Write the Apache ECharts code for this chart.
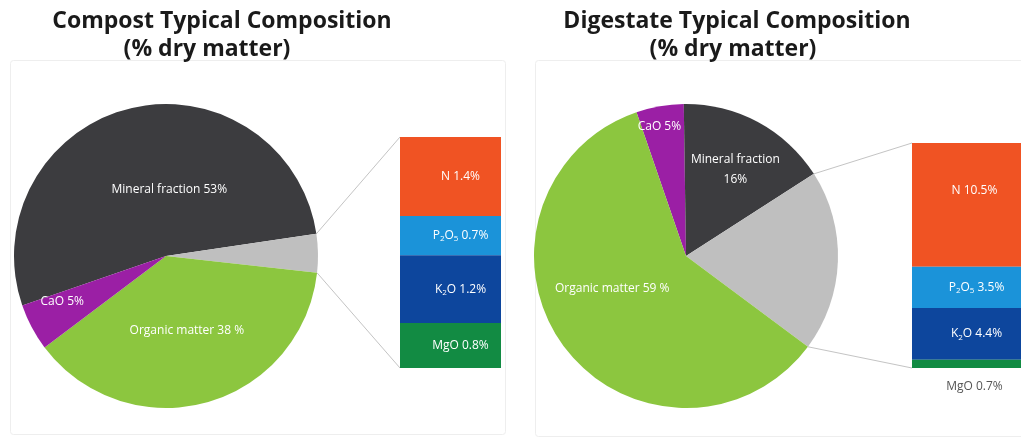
<!DOCTYPE html>
<html>
<head>
<meta charset="utf-8">
<script src="https://cdn.jsdelivr.net/npm/echarts@6/dist/echarts.min.js"></script>
<style>
  html, body { margin: 0; padding: 0; background: #fff; }
  #chart { width: 1021px; height: 439px; }
</style>
</head>
<body>
<div id="chart"></div>
<script>
// pie slices, clockwise from the start angle (the grey slice is the "nutrients" part shown as a bar)
const compostNames = ['Mineral fraction', 'Nutrients', 'Organic matter', 'CaO'];
const compostValues = [53, 4.1, 38, 5];
const digestateNames = ['CaO', 'Mineral fraction', 'Nutrients', 'Organic matter'];
const digestateValues = [5, 16, 19.1, 59];

// breakdown of the grey slice
const nutrientNames = ['N', 'P2O5', 'K2O', 'MgO'];
const compostNutrients = [1.4, 0.7, 1.2, 0.8];
const digestateNutrients = [10.5, 3.5, 4.4, 0.7];

const sliceColors = {
  'Mineral fraction': '#3c3c3f',
  'Nutrients': '#bfbfbf',
  'Organic matter': '#8cc63f',
  'CaO': '#9b1fa5'
};
const nutrientColors = ['#f05323', '#1b93d9', '#0d469d', '#128b43'];
const nutrientRich = {
  N: 'N',
  P2O5: 'P{s|2}O{s|5}',
  K2O: 'K{s|2}O',
  MgO: 'MgO'
};

// layout
const pieRadius = 152;
const pies = [
  { center: [166, 256], start: 199 },
  { center: [686, 256], start: 109 }
];
const grids = [
  { left: 400, top: 137, width: 101, height: 231 },
  { left: 912, top: 143, width: 109, height: 225 }
];

// label nudges, seriesIndex -> dataIndex -> [dx, dy]
const pieNudge = {
  0: { 0: [22, 10], 2: [0, -2], 3: [-34, 9] },
  1: { 0: [-13, -52], 1: [12, -17], 3: [-10, -14] }
};

const labelFont = 'Open Sans, sans-serif';

function pieData(names, values) {
  return names.map((n, i) => ({
    name: n,
    value: values[i],
    itemStyle: { color: sliceColors[n] },
    label: { show: n !== 'Nutrients' }
  }));
}

function pieLabel(p, twoLine) {
  let sep = ' ';
  let unit = '%';
  if (p.name === 'Organic matter') unit = ' %';
  if (p.name === 'Mineral fraction' && twoLine) sep = '\n';
  return p.name + sep + p.value + unit;
}

function pieSeries(names, values, pie, twoLine) {
  return {
    type: 'pie',
    center: pie.center,
    radius: pieRadius,
    startAngle: pie.start,
    clockwise: true,
    animation: false,
    silent: true,
    data: pieData(names, values),
    itemStyle: { borderWidth: 0 },
    label: {
      position: 'inside',
      color: '#fff',
      fontSize: 12,
      fontFamily: labelFont,
      lineHeight: 20,
      formatter: (p) => pieLabel(p, twoLine)
    },
    labelLine: { show: false },
    labelLayout: (params) => {
      const n = (pieNudge[params.seriesIndex] || {})[params.dataIndex];
      return n ? { dx: n[0], dy: n[1] } : {};
    }
  };
}

function barSeries(values, gridIdx, outsideLast) {
  return nutrientNames.map((n, i) => {
    const last = outsideLast && i === nutrientNames.length - 1;
    const col = last ? '#555' : '#fff';
    return {
      type: 'bar',
      name: n,
      stack: 'nut' + gridIdx,
      xAxisIndex: gridIdx,
      yAxisIndex: gridIdx,
      barWidth: '100%',
      animation: false,
      silent: true,
      data: [values[i]],
      itemStyle: { color: nutrientColors[i] },
      label: {
        show: true,
        position: last ? 'bottom' : 'inside',
        distance: 13,
        offset: last ? [8, 0] : (gridIdx === 1 && i === 0 ? [8, -14] : [10, 0]),
        color: col,
        fontSize: 12,
        fontFamily: labelFont,
        formatter: '{t|' + nutrientRich[n].replace(/\{s\|(\d)\}/g, '}{s|$1}{t|') + ' ' + values[i] + '%}',
        rich: {
          t: { fontSize: 12, fontFamily: labelFont, color: col },
          s: { fontSize: 8, fontFamily: labelFont, color: col, padding: [7, 0, 0, 0] }
        }
      }
    };
  });
}

const sum = (a) => a.reduce((s, v) => s + v, 0);

// edges of the grey slice, joined to the corners of its bar
function connectors(values, greyIdx, pie, grid) {
  const total = sum(values);
  const before = sum(values.slice(0, greyIdx));
  const a1 = (pie.start - before / total * 360) * Math.PI / 180;
  const a2 = (pie.start - (before + values[greyIdx]) / total * 360) * Math.PI / 180;
  const pt = (a) => [pie.center[0] + pieRadius * Math.cos(a), pie.center[1] - pieRadius * Math.sin(a)];
  const top = pt(a1);
  const bot = pt(a2);
  const st = { stroke: '#c4c4c4', lineWidth: 1 };
  return [
    { type: 'line', silent: true, shape: { x1: top[0], y1: top[1], x2: grid.left, y2: grid.top }, style: st },
    { type: 'line', silent: true, shape: { x1: bot[0], y1: bot[1], x2: grid.left, y2: grid.top + grid.height }, style: st }
  ];
}

const chart = echarts.init(document.getElementById('chart'), null, { renderer: 'canvas' });

const titleStyle = { fontFamily: 'Open Sans, sans-serif', fontWeight: 'bold', fontSize: 23, color: '#1a1a1a', lineHeight: 28 };
const frameStyle = { fill: 'none', stroke: '#eeeeee', lineWidth: 1 };

const option = {
  backgroundColor: '#fff',
  title: [
    { text: 'Compost Typical Composition', left: 217, top: 2, textAlign: 'center', textStyle: titleStyle },
    { text: '(% dry matter)', left: 202, top: 30, textAlign: 'center', textStyle: titleStyle },
    { text: 'Digestate Typical Composition', left: 732, top: 2, textAlign: 'center', textStyle: titleStyle },
    { text: '(% dry matter)', left: 728, top: 30, textAlign: 'center', textStyle: titleStyle }
  ],
  grid: grids.map((g) => Object.assign({}, g)),
  xAxis: [
    { type: 'category', gridIndex: 0, data: ['compost'], show: false },
    { type: 'category', gridIndex: 1, data: ['digestate'], show: false }
  ],
  yAxis: [
    { type: 'value', gridIndex: 0, min: 0, max: sum(compostNutrients), inverse: true, show: false },
    { type: 'value', gridIndex: 1, min: 0, max: sum(digestateNutrients), inverse: true, show: false }
  ],
  graphic: [
    { type: 'rect', silent: true, z: -10, shape: { x: 10.5, y: 60.5, width: 495, height: 374, r: 3 }, style: frameStyle },
    { type: 'rect', silent: true, z: -10, shape: { x: 535.5, y: 60.5, width: 490, height: 376, r: 3 }, style: frameStyle }
  ].concat(
    connectors(compostValues, 1, pies[0], grids[0]),
    connectors(digestateValues, 2, pies[1], grids[1])
  ),
  series: [
    pieSeries(compostNames, compostValues, pies[0], false),
    pieSeries(digestateNames, digestateValues, pies[1], true)
  ].concat(barSeries(compostNutrients, 0, false), barSeries(digestateNutrients, 1, true))
};

chart.setOption(option);
</script>
</body>
</html>
